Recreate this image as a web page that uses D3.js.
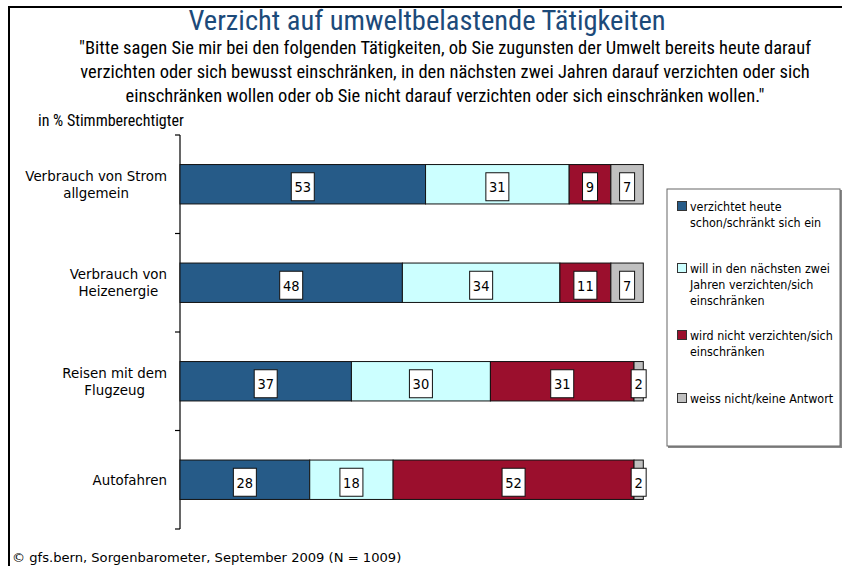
<!DOCTYPE html>
<html>
<head>
<meta charset="utf-8">
<script src="https://cdn.jsdelivr.net/npm/d3@7"></script>
<style>
  body { margin: 0; background: #fff; }
  svg { display: block; }
  .narrow { font-family: "Liberation Sans Narrow", "Arial Narrow", "Roboto Condensed", sans-serif; }
  .tah { font-family: "DejaVu Sans Condensed", "DejaVu Sans", Tahoma, sans-serif; }
  .tahw { font-family: "DejaVu Sans", Tahoma, sans-serif; }
</style>
</head>
<body>
<div id="chart"></div>
<script>
// Verzicht auf umweltbelastende Tätigkeiten — gfs.bern Sorgenbarometer 2009

const categories = ["Strom", "Heizenergie", "Flugzeug", "Auto"];
const categoryLabels = [
    ["Verbrauch von Strom", "allgemein"],
    ["Verbrauch von", "Heizenergie"],
    ["Reisen mit dem", "Flugzeug"],
    ["Autofahren"]
];
const seriesKeys = ["heute", "zweiJahre", "nicht", "weissNicht"];
const seriesLabels = [
    ["verzichtet heute", "schon/schränkt sich ein"],
    ["will in den nächsten zwei", "Jahren verzichten/sich", "einschränken"],
    ["wird nicht verzichten/sich", "einschränken"],
    ["weiss nicht/keine Antwort"]
];
const heute      = [53, 48, 37, 28];
const zweiJahre  = [31, 34, 30, 18];
const nicht      = [9, 11, 31, 52];
const weissNicht = [7, 7, 2, 2];
const colors = ["#265b88", "#ccffff", "#9b0f2d", "#c0c0c0"];

const titleText = "Verzicht auf umweltbelastende Tätigkeiten";
const questionLines = [
    "\"Bitte sagen Sie mir bei den folgenden Tätigkeiten, ob Sie zugunsten der Umwelt bereits heute darauf",
    "verzichten oder sich bewusst einschränken, in den nächsten zwei Jahren darauf verzichten oder sich",
    "einschränken wollen oder ob Sie nicht darauf verzichten oder sich einschränken wollen.\""
];
const unitText = "in % Stimmberechtigter";
const sourceText = "© gfs.bern, Sorgenbarometer, September 2009 (N = 1009)";

const W = 842, H = 566;
const rows = categories.map((c, i) => ({
    cat: c, heute: heute[i], zweiJahre: zweiJahre[i], nicht: nicht[i], weissNicht: weissNicht[i]
}));

const svg = d3.select("#chart").append("svg").attr("width", W).attr("height", H);

// frame (top + left rule)
svg.append("path").attr("d", "M9,7 H842 M9,6 V566")
    .attr("fill", "none").attr("stroke", "#000").attr("stroke-width", 2);

// headings
svg.append("text").attr("class", "narrow")
    .attr("x", 427).attr("y", 30).attr("text-anchor", "middle")
    .attr("font-size", 28.5).attr("fill", "#1c4a7a").text(titleText);

svg.append("g").attr("class", "narrow").selectAll("text").data(questionLines).join("text")
    .attr("x", 445).attr("y", (d, i) => 54 + i * 24).attr("text-anchor", "middle")
    .attr("font-size", 18.5).attr("fill", "#000").text(d => d);

svg.append("text").attr("class", "narrow")
    .attr("x", 38).attr("y", 126).attr("font-size", 16).text(unitText);

// scales
const x = d3.scaleLinear().domain([0, 100]).range([180, 643.3]);
const y = d3.scaleBand().domain(categories).range([135, 529]).paddingInner(0.6).paddingOuter(0.3);

// axis with ticks at category boundaries
const axisG = svg.append("g");
axisG.append("line").attr("x1", 180).attr("x2", 180).attr("y1", 135).attr("y2", 529)
    .attr("stroke", "#000").attr("stroke-width", 1.2);
const bounds = categories.map((c, i) => 135 + i * y.step());
bounds.push(529);
axisG.selectAll("line.tick").data(bounds).join("line").attr("class", "tick")
    .attr("x1", 175).attr("x2", 180).attr("y1", d => d).attr("y2", d => d)
    .attr("stroke", "#000").attr("stroke-width", 1.2);

// category labels
const catG = svg.append("g").attr("class", "tahw").attr("font-size", 13.4).attr("fill", "#000");
categoryLabels.forEach((lines, i) => {
    const cy = y(categories[i]) + y.bandwidth() / 2;
    const g = catG.append("g");
    const t = g.selectAll("text").data(lines).join("text")
        .attr("text-anchor", "middle")
        .attr("y", (d, j) => cy + 5 - (lines.length - 1) * 8.5 + j * 17)
        .text(d => d);
    let maxW = 0;
    t.each(function() { maxW = Math.max(maxW, this.getComputedTextLength()); });
    t.attr("x", 167 - maxW / 2);
});

// stacked bars
const stacked = d3.stack().keys(seriesKeys)(rows);
const barG = svg.append("g");
stacked.forEach((layer, k) => {
    barG.append("g").selectAll("rect").data(layer).join("rect")
        .attr("x", d => x(d[0]))
        .attr("y", d => y(d.data.cat))
        .attr("width", d => x(d[1]) - x(d[0]))
        .attr("height", y.bandwidth())
        .attr("fill", colors[k])
        .attr("stroke", "#111").attr("stroke-width", 1);
});

// value labels in white boxes
const labG = svg.append("g").attr("class", "tah").attr("font-size", 14.5);
stacked.forEach(layer => {
    layer.forEach(d => {
        const v = d[1] - d[0];
        const cx = (x(d[0]) + x(d[1])) / 2;
        const cy = y(d.data.cat) + y.bandwidth() / 2 + 2.5;
        const bw = String(v).length > 1 ? 23 : 15;
        labG.append("rect")
            .attr("x", cx - bw / 2).attr("y", cy - 14)
            .attr("width", bw).attr("height", 28)
            .attr("fill", "#fff").attr("stroke", "#111").attr("stroke-width", 1);
        labG.append("text")
            .attr("x", cx).attr("y", cy + 5.5).attr("text-anchor", "middle")
            .text(v);
    });
});

// legend
const leg = svg.append("g");
leg.append("rect").attr("x", 668).attr("y", 190).attr("width", 174).attr("height", 258).attr("fill", "#888");
leg.append("rect").attr("x", 667).attr("y", 189).attr("width", 173).attr("height", 257)
    .attr("fill", "#fff").attr("stroke", "#666").attr("stroke-width", 1);
const legTop = [211, 273, 340, 403];
seriesLabels.forEach((lines, k) => {
    leg.append("rect").attr("x", 677.5).attr("y", legTop[k] - 9.5).attr("width", 9).attr("height", 9)
        .attr("fill", colors[k]).attr("stroke", "#333").attr("stroke-width", 1);
    leg.append("g").attr("class", "tah").attr("font-size", 12.4).selectAll("text").data(lines).join("text")
        .attr("x", 690).attr("y", (d, j) => legTop[k] + j * 16)
        .text(d => d);
});

// source
svg.append("text").attr("class", "tahw").attr("x", 12).attr("y", 562)
    .attr("font-size", 13.1).text(sourceText);
</script>
</body>
</html>
